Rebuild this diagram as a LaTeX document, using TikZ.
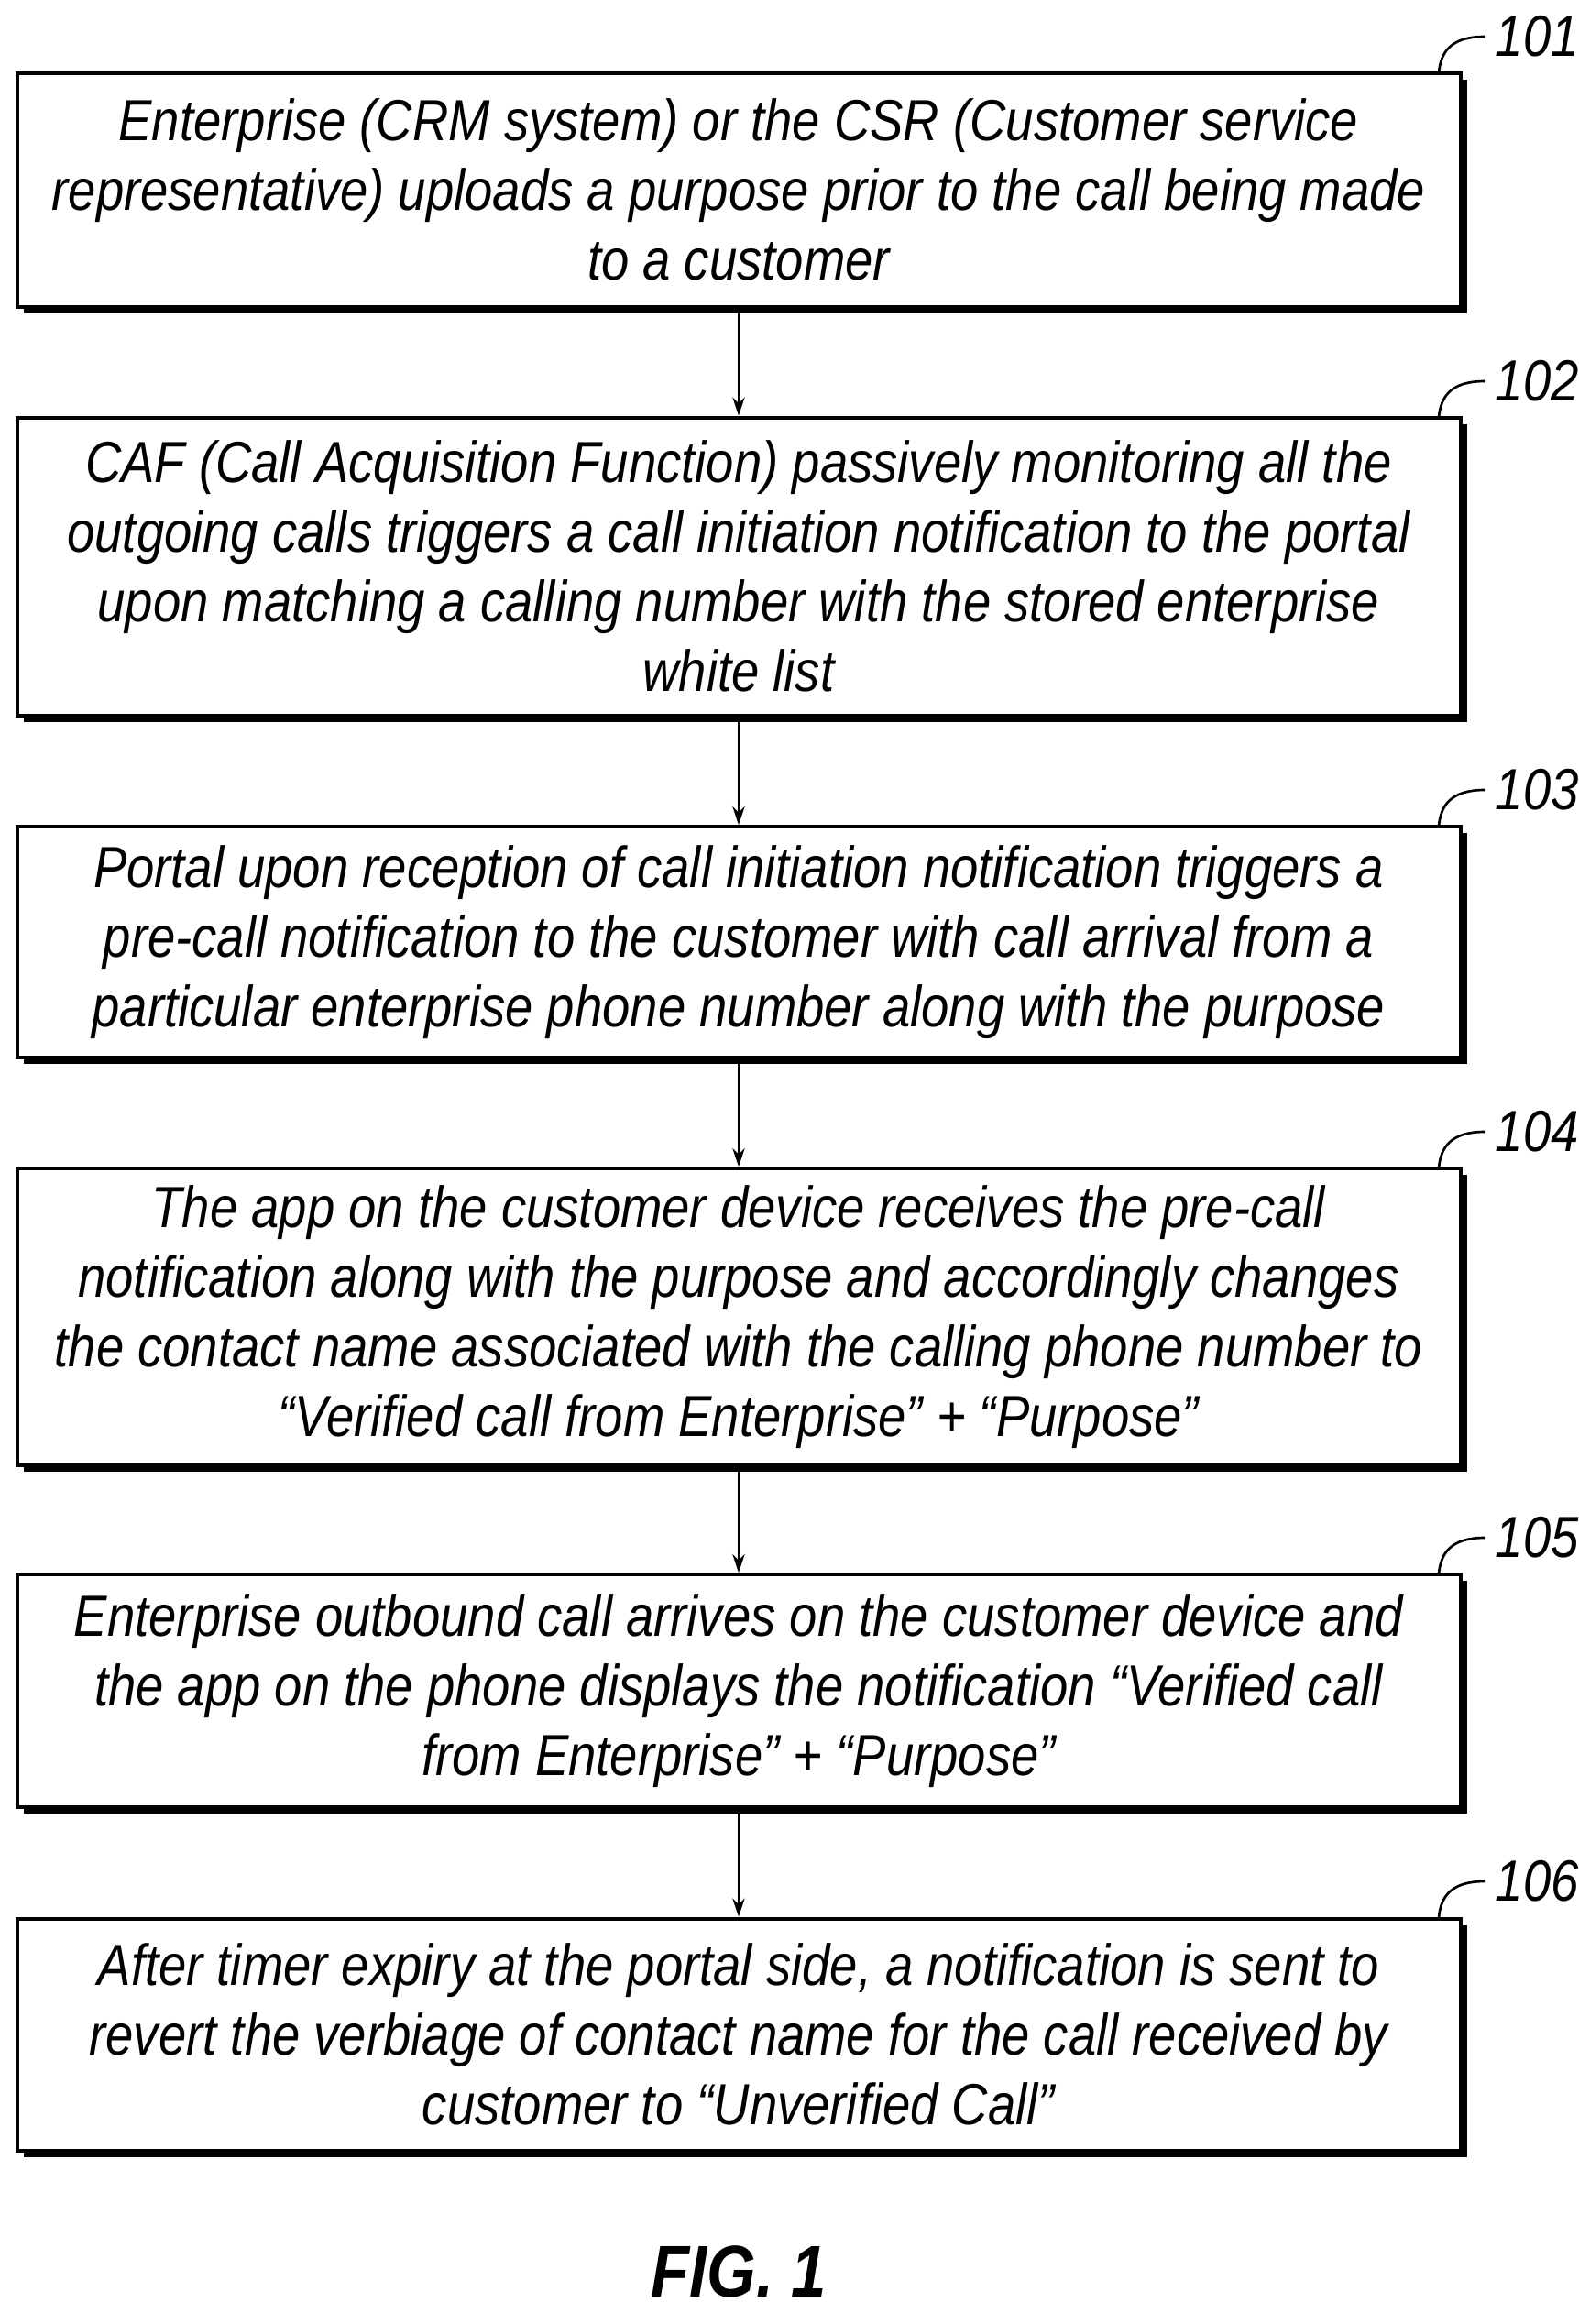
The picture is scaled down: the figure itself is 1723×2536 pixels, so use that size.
\documentclass[tikz,border=0pt]{standalone}
\usepackage{fontspec}
\setmainfont[FakeStretch=0.86]{Liberation Sans}
\usetikzlibrary{arrows.meta,shadows}

\begin{document}
\begin{tikzpicture}[x=0.3pt,y=-0.3pt]

\tikzstyle{step_box} = [draw=black, line width=1.2pt, fill=white, drop shadow={shadow xshift=2.2pt, shadow yshift=-2.2pt, fill=black, opacity=1}, align=center, font=\itshape\fontsize{19}{22.8}\selectfont, inner sep=0pt]
\tikzstyle{flow} = [-{Stealth[length=6pt,width=4pt]}, line width=0.8pt]
\tikzstyle{ref_label} = [font=\itshape\fontsize{19}{22}\selectfont]

\useasboundingbox (0,0) rectangle (1723,2536);

%------------------------------------------------------------
	\node[step_box, minimum width=1575*0.3pt, minimum height=255*0.3pt] (s101) at (806,207) {Enterprise (CRM system) or the CSR (Customer service\\representative) uploads a purpose prior to the call being made\\to a customer};
	\node[step_box, minimum width=1575*0.3pt, minimum height=325*0.3pt] (s102) at (806,618) {CAF (Call Acquisition Function) passively monitoring all the\\outgoing calls triggers a call initiation notification to the portal\\upon matching a calling number with the stored enterprise\\white list};
	\node[step_box, minimum width=1575*0.3pt, minimum height=252*0.3pt] (s103) at (806,1028) {Portal upon reception of call initiation notification triggers a\\pre-call notification to the customer with call arrival from a\\particular enterprise phone number along with the purpose};
	\node[step_box, minimum width=1575*0.3pt, minimum height=324*0.3pt] (s104) at (806,1437) {The app on the customer device receives the pre-call\\notification along with the purpose and accordingly changes\\the contact name associated with the calling phone number to\\``Verified call from Enterprise'' + ``Purpose''};
	\node[step_box, minimum width=1575*0.3pt, minimum height=254*0.3pt] (s105) at (806,1845) {Enterprise outbound call arrives on the customer device and\\the app on the phone displays the notification ``Verified call\\from Enterprise'' + ``Purpose''};
	\node[step_box, minimum width=1575*0.3pt, minimum height=253*0.3pt] (s106) at (806,2220) {After timer expiry at the portal side, a notification is sent to\\revert the verbiage of contact name for the call received by\\customer to ``Unverified Call''};

%------------------------------------------------------------
	\foreach \a/\b in {s101/s102, s102/s103, s103/s104, s104/s105, s105/s106}
		\draw[flow] (\a) -- (\b);

%------------------------------------------------------------
	\foreach \s/\y in {101/80, 102/456, 103/902, 104/1275, 105/1718, 106/2093} {
		\node[ref_label, anchor=west] (l\s) at (1620,\y-40) {\s};
		\draw[line width=0.8pt] (l\s.west) .. controls (1585,\y-40) and (1572,\y-25) .. (1570,\y);
	}

	\node[font=\bfseries\itshape\fontsize{24}{28}\selectfont] (fig) at (806,2479) {FIG. 1};

\end{tikzpicture}
\end{document}
